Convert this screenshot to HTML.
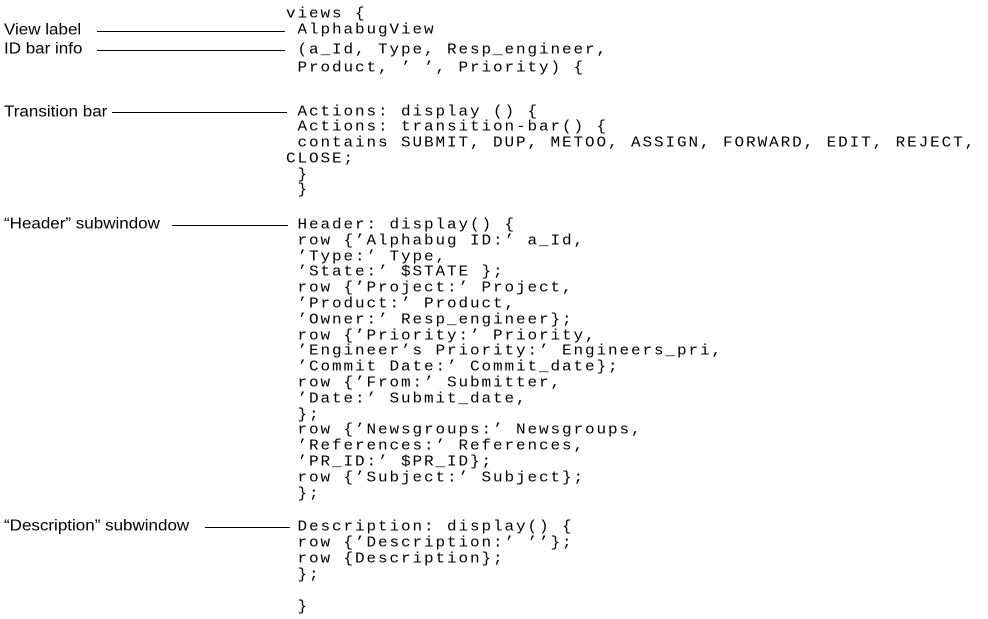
<!DOCTYPE html>
<html><head><meta charset="utf-8"><style>
body{margin:0;background:#fff;width:988px;height:619px;position:relative;overflow:hidden}
.c{position:absolute;left:286px;font-family:"Liberation Mono",monospace;font-size:16px;letter-spacing:1.9px;line-height:16px;white-space:pre;color:#000;transform:scaleY(0.92);transform-origin:0 50%}
.l{position:absolute;left:4px;font-family:"Liberation Sans",sans-serif;font-size:17px;line-height:16px;white-space:pre;color:#000;letter-spacing:0px;transform:scaleY(0.9);transform-origin:0 50%}
.h{position:absolute;height:1px;background:#000}
</style></head><body>
<div class="l" style="top:22px">View label</div><div class="h" style="left:97px;width:188px;top:31px"></div>
<div class="l" style="top:41px">ID bar info</div><div class="h" style="left:97px;width:188px;top:50px"></div>
<div class="l" style="top:104px">Transition bar</div><div class="h" style="left:112px;width:175px;top:112px"></div>
<div class="l" style="top:216px">“Header” subwindow</div><div class="h" style="left:172px;width:116px;top:225px"></div>
<div class="l" style="top:518px">“Description” subwindow</div><div class="h" style="left:205px;width:85px;top:527px"></div>

<div class="c" style="top:6px">views {</div>
<div class="c" style="top:22px"> AlphabugView</div>
<div class="c" style="top:42px"> (a_Id, Type, Resp_engineer,</div>
<div class="c" style="top:60px"> Product, ’ ’, Priority) {</div>
<div class="c" style="top:104px"> Actions: display () {</div>
<div class="c" style="top:119px"> Actions: transition-bar() {</div>
<div class="c" style="top:135px"> contains SUBMIT, DUP, METOO, ASSIGN, FORWARD, EDIT, REJECT,</div>
<div class="c" style="top:151px">CLOSE;</div>
<div class="c" style="top:167px"> }</div>
<div class="c" style="top:182px"> }</div>

<div class="c" style="top:217px"> Header: display() {</div>
<div class="c" style="top:232.8px"> row {’Alphabug ID:’ a_Id,</div>
<div class="c" style="top:248.6px"> ’Type:’ Type,</div>
<div class="c" style="top:264.4px"> ’State:’ $STATE };</div>
<div class="c" style="top:280.2px"> row {’Project:’ Project,</div>
<div class="c" style="top:296px"> ’Product:’ Product,</div>
<div class="c" style="top:311.8px"> ’Owner:’ Resp_engineer};</div>
<div class="c" style="top:327.6px"> row {’Priority:’ Priority,</div>
<div class="c" style="top:343.4px"> ’Engineer’s Priority:’ Engineers_pri,</div>
<div class="c" style="top:359.2px"> ’Commit Date:’ Commit_date};</div>
<div class="c" style="top:375px"> row {’From:’ Submitter,</div>
<div class="c" style="top:390.8px"> ’Date:’ Submit_date,</div>
<div class="c" style="top:406.6px"> };</div>
<div class="c" style="top:422.4px"> row {’Newsgroups:’ Newsgroups,</div>
<div class="c" style="top:438.2px"> ’References:’ References,</div>
<div class="c" style="top:454px"> ’PR_ID:’ $PR_ID};</div>
<div class="c" style="top:469.8px"> row {’Subject:’ Subject};</div>
<div class="c" style="top:485.6px"> };</div>

<div class="c" style="top:519px"> Description: display() {</div>
<div class="c" style="top:535px"> row {’Description:’ ’’};</div>
<div class="c" style="top:551px"> row {Description};</div>
<div class="c" style="top:567px"> };</div>
<div class="c" style="top:599px"> }</div>
</body></html>
